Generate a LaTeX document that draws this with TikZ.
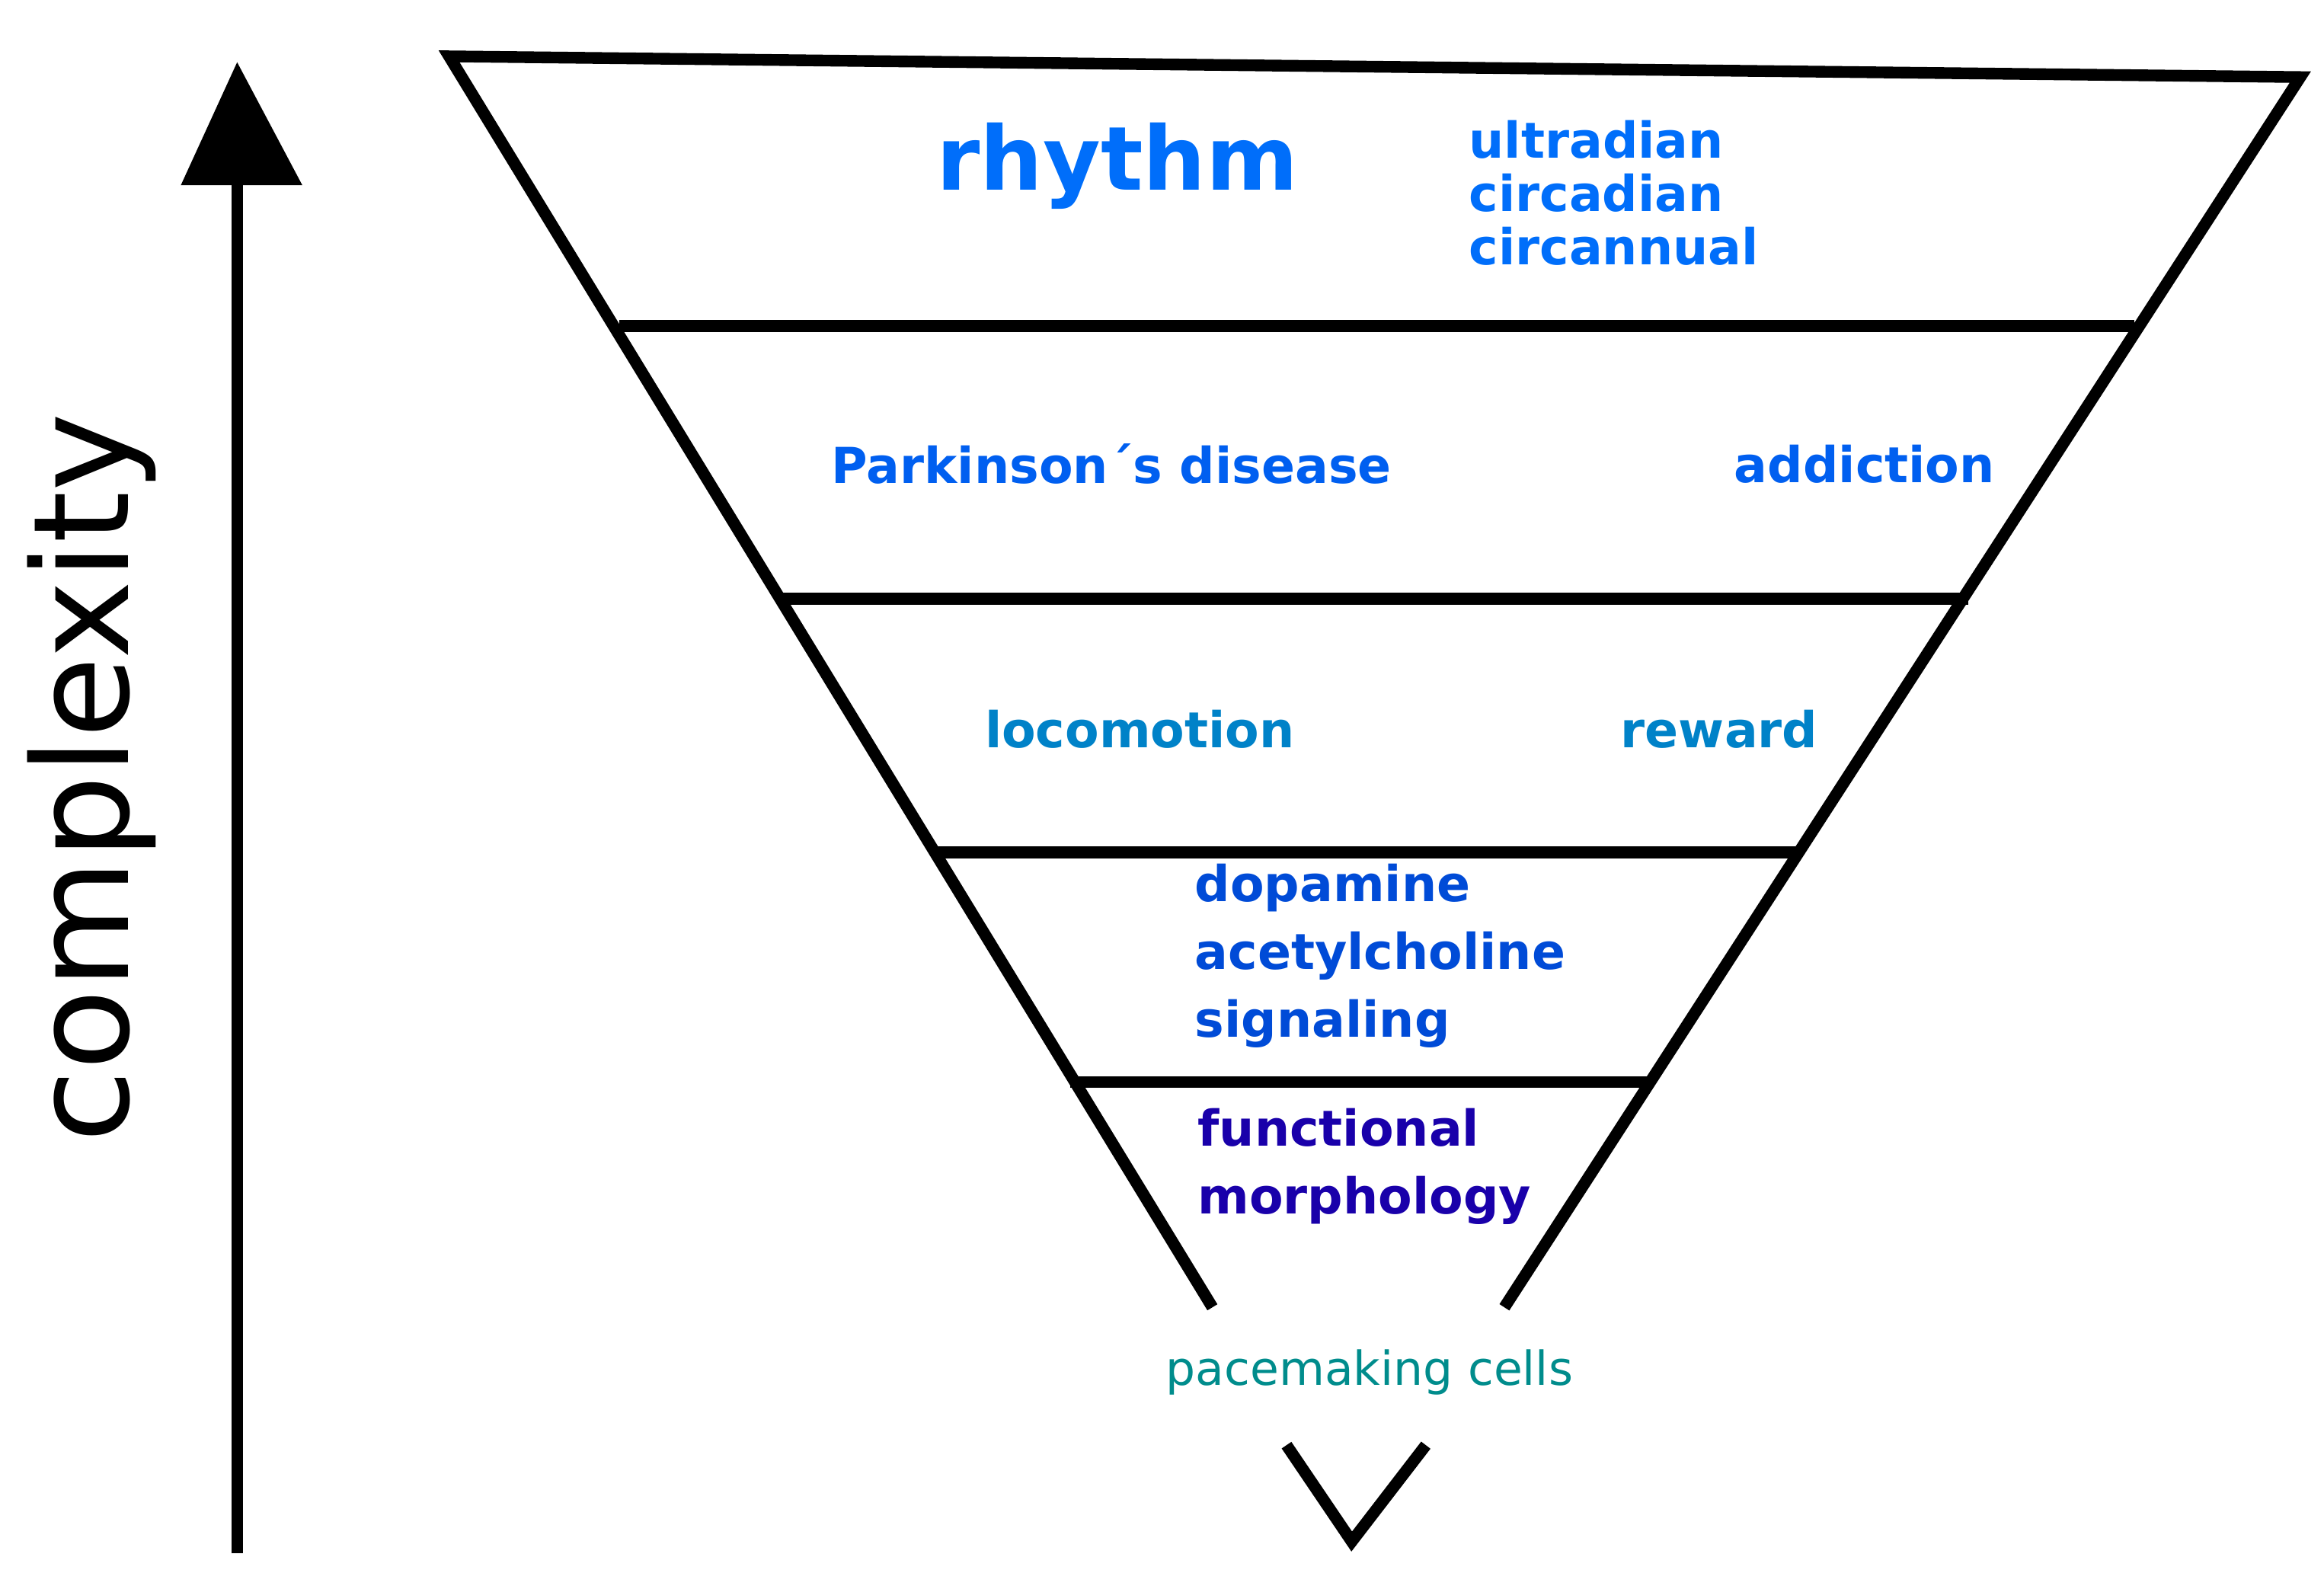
\documentclass[tikz,border=0pt]{standalone}
\usepackage{fontspec}
\setmainfont{DejaVu Sans}
\usetikzlibrary{positioning, calc}
\definecolor{rhythmblue}{RGB}{0,110,250}
\definecolor{diseaseblue}{RGB}{0,95,240}
\definecolor{behaveblue}{RGB}{0,130,200}
\definecolor{signalblue}{RGB}{0,75,215}
\definecolor{morphblue}{RGB}{25,0,170}
\definecolor{cellteal}{RGB}{0,140,140}

\begin{document}
\begin{tikzpicture}[x=0.02cm, y=-0.02cm]
    \tikzstyle{edge} = [line width=4.5pt, black]
    \tikzstyle{level} = [font=\bfseries\fontsize{19}{23}\selectfont, align=left]
    \useasboundingbox (0,0) rectangle (1568,1072);

    % funnel outline
    \coordinate (topleft) at (303,38);
    \coordinate (topright) at (1552,52);
    \coordinate (tip) at (912,1040);
    \coordinate (leftgap) at (818,882);
    \coordinate (leftend) at (868,975);
    \coordinate (rightgap) at (1015,882);
    \coordinate (rightend) at (962,975);
    \draw [edge] (leftgap) -- (topleft) -- (topright) -- (rightgap);
    \draw [edge] (leftend) -- (tip) -- (rightend);

    % layers
    \draw [edge] (418,220) -- (1440,220);
    \draw [edge] (527,404) -- (1328,404);
    \draw [edge] (630,575) -- (1213,575);
    \draw [edge] (722,730) -- (1113,730);

    % complexity axis
    \coordinate (axisbottom) at (160,1048);
    \coordinate (axistop) at (160,42);
    \draw [line width=4.5pt] (axisbottom) -- (160,120);
    \fill (122,125) -- (axistop) -- (204,125) -- cycle;
    \node (complexity) [rotate=90, font=\fontsize{51}{60}\selectfont] at (62,525) {complexity};

    % labels
    \node (rhythm) [font=\bfseries\fontsize{34}{40}\selectfont, text=rhythmblue] at (754,112) {rhythm};
    \node (periods) [level, text=rhythmblue, anchor=west, font=\bfseries\fontsize{19}{20.5}\selectfont] at (985,130) {ultradian\\circadian\\circannual};
    \node (parkinson) [level, text=diseaseblue] at (750,313) {Parkinson´s disease};
    \node (addiction) [level, text=diseaseblue] at (1258,313) {addiction};
    \node (locomotion) [level, text=behaveblue] at (769,492) {locomotion};
    \node (reward) [level, text=behaveblue] at (1160,492) {reward};
    \node (signaling) [level, text=signalblue, anchor=west, font=\bfseries\fontsize{19}{26}\selectfont] at (800,645) {dopamine\\acetylcholine\\signaling};
    \node (morphology) [level, text=morphblue, anchor=west, font=\bfseries\fontsize{19}{26}\selectfont] at (802,787) {functional\\morphology};
    \node (pacemaking) [text=cellteal, font=\fontsize{18}{22}\selectfont] at (924,926) {pacemaking cells};
\end{tikzpicture}
\end{document}
